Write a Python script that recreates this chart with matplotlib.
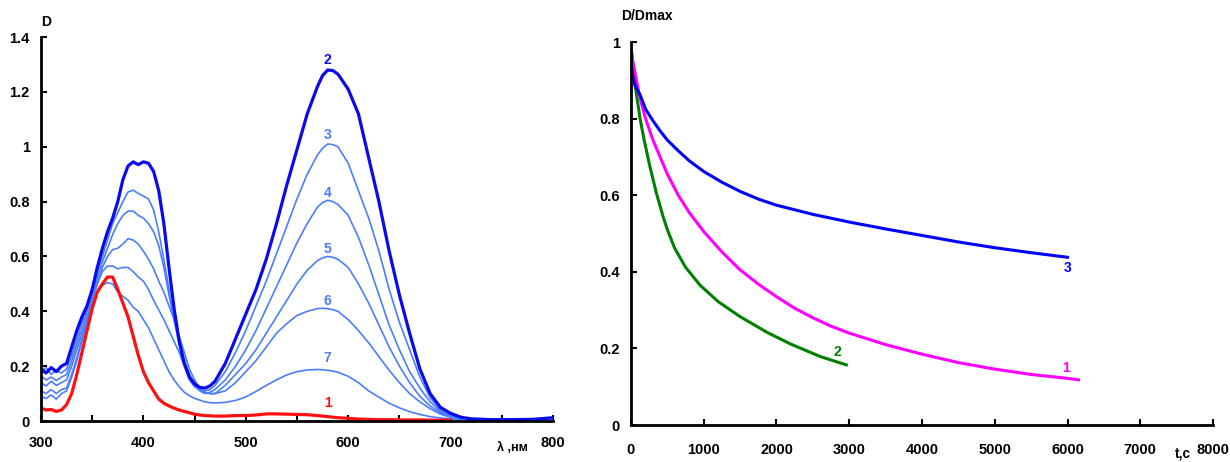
import matplotlib
matplotlib.use("Agg")
import matplotlib.pyplot as plt
from matplotlib.ticker import MultipleLocator, FuncFormatter

plt.rcParams['font.family'] = ['Liberation Sans', 'DejaVu Sans']
plt.rcParams['font.weight'] = 'bold'

# ---- left panel: absorption spectra ----
wl = [300, 305, 310, 315, 320, 325, 330, 335, 340, 345, 350, 355, 360, 365, 370, 375,
      380, 385, 390, 395, 400, 405, 410, 415, 420, 425, 430, 435, 440, 445, 450, 455,
      460, 465, 470, 480, 490, 500, 510, 520, 530, 540, 550, 560, 570, 575, 580, 585, 590, 600,
      610, 620, 630, 640, 650, 660, 670, 680, 690, 700, 710, 720, 740, 760, 780, 800]

d2 = [0.19, 0.175, 0.195, 0.18, 0.20, 0.21, 0.27, 0.33, 0.38, 0.42, 0.48, 0.56, 0.63, 0.69, 0.74, 0.80,
      0.88, 0.93, 0.945, 0.935, 0.945, 0.94, 0.91, 0.84, 0.72, 0.56, 0.41, 0.29, 0.21, 0.16, 0.135, 0.123,
      0.12, 0.128, 0.145, 0.21, 0.30, 0.39, 0.48, 0.59, 0.72, 0.86, 0.99, 1.12, 1.22, 1.26, 1.28, 1.278, 1.265, 1.21,
      1.12, 0.96, 0.80, 0.62, 0.46, 0.32, 0.19, 0.10, 0.05, 0.028, 0.014, 0.008, 0.005, 0.005, 0.006, 0.012]

d3 = [0.18, 0.195, 0.17, 0.185, 0.175, 0.19, 0.24, 0.30, 0.36, 0.41, 0.47, 0.54, 0.60, 0.66, 0.72, 0.76,
      0.80, 0.835, 0.842, 0.83, 0.82, 0.81, 0.77, 0.69, 0.59, 0.48, 0.37, 0.28, 0.20, 0.15, 0.125, 0.113,
      0.11, 0.115, 0.13, 0.18, 0.25, 0.33, 0.42, 0.51, 0.61, 0.71, 0.81, 0.90, 0.97, 0.995, 1.01, 1.008, 1.00, 0.94,
      0.84, 0.74, 0.62, 0.48, 0.36, 0.26, 0.16, 0.085, 0.04, 0.02, 0.01, 0.007, 0.005, 0.005, 0.005, 0.01]

d4 = [0.165, 0.15, 0.16, 0.148, 0.16, 0.17, 0.22, 0.28, 0.34, 0.40, 0.46, 0.52, 0.58, 0.63, 0.68, 0.72,
      0.75, 0.765, 0.766, 0.75, 0.74, 0.72, 0.69, 0.64, 0.56, 0.46, 0.37, 0.29, 0.22, 0.17, 0.13, 0.11,
      0.10, 0.105, 0.115, 0.15, 0.20, 0.26, 0.33, 0.41, 0.49, 0.57, 0.65, 0.72, 0.78, 0.797, 0.805, 0.80, 0.79, 0.75,
      0.67, 0.57, 0.46, 0.35, 0.26, 0.18, 0.12, 0.07, 0.035, 0.018, 0.01, 0.006, 0.005, 0.005, 0.005, 0.009]

d5 = [0.14, 0.128, 0.145, 0.13, 0.14, 0.15, 0.20, 0.26, 0.32, 0.38, 0.44, 0.50, 0.56, 0.60, 0.625, 0.63,
      0.645, 0.665, 0.66, 0.645, 0.62, 0.59, 0.555, 0.51, 0.47, 0.42, 0.37, 0.31, 0.25, 0.19, 0.15, 0.12,
      0.105, 0.10, 0.10, 0.13, 0.17, 0.21, 0.26, 0.32, 0.38, 0.44, 0.50, 0.55, 0.585, 0.595, 0.60, 0.597, 0.59, 0.56,
      0.50, 0.43, 0.35, 0.27, 0.20, 0.14, 0.09, 0.055, 0.03, 0.016, 0.009, 0.006, 0.005, 0.005, 0.005, 0.008]

d6 = [0.11, 0.10, 0.115, 0.10, 0.115, 0.12, 0.17, 0.23, 0.30, 0.37, 0.44, 0.50, 0.545, 0.565, 0.565, 0.555,
      0.56, 0.56, 0.545, 0.525, 0.51, 0.48, 0.44, 0.405, 0.37, 0.33, 0.29, 0.25, 0.20, 0.165, 0.14, 0.12,
      0.105, 0.10, 0.10, 0.11, 0.14, 0.18, 0.22, 0.27, 0.32, 0.355, 0.385, 0.40, 0.41, 0.411, 0.41, 0.406, 0.40, 0.37,
      0.33, 0.285, 0.235, 0.185, 0.14, 0.10, 0.07, 0.045, 0.025, 0.014, 0.008, 0.006, 0.005, 0.005, 0.005, 0.008]

d7 = [0.09, 0.082, 0.095, 0.08, 0.10, 0.11, 0.16, 0.22, 0.29, 0.36, 0.42, 0.47, 0.495, 0.505, 0.50, 0.47,
      0.455, 0.44, 0.415, 0.40, 0.37, 0.34, 0.30, 0.26, 0.22, 0.18, 0.15, 0.125, 0.105, 0.092, 0.083, 0.076,
      0.07, 0.067, 0.066, 0.068, 0.075, 0.088, 0.108, 0.13, 0.15, 0.168, 0.18, 0.186, 0.188, 0.187, 0.185, 0.182, 0.178, 0.163,
      0.14, 0.11, 0.087, 0.065, 0.048, 0.034, 0.024, 0.016, 0.011, 0.008, 0.006, 0.005, 0.004, 0.004, 0.004, 0.007]

d1 = [0.047, 0.04, 0.042, 0.035, 0.04, 0.06, 0.10, 0.17, 0.25, 0.33, 0.41, 0.47, 0.50, 0.525, 0.525, 0.48,
      0.43, 0.38, 0.31, 0.24, 0.18, 0.14, 0.11, 0.08, 0.065, 0.055, 0.047, 0.04, 0.035, 0.03, 0.025, 0.022,
      0.02, 0.019, 0.018, 0.018, 0.02, 0.02, 0.022, 0.026, 0.026, 0.025, 0.024, 0.023, 0.02, 0.018, 0.016, 0.014, 0.012, 0.01,
      0.007, 0.006, 0.005, 0.005, 0.004, 0.004, 0.004, 0.003, 0.003, 0.003]

# ---- right panel: kinetics ----
t3 = [0, 15, 30, 60, 125, 200, 300, 400, 500, 650, 800, 1000, 1250, 1500, 1750, 2000,
      2500, 3000, 3500, 4000, 4500, 5000, 5500, 6000]
k3 = [0.96, 0.925, 0.905, 0.885, 0.862, 0.825, 0.795, 0.768, 0.744, 0.716, 0.69, 0.662, 0.634, 0.61, 0.59, 0.574,
      0.55, 0.53, 0.512, 0.495, 0.478, 0.463, 0.45, 0.438]

t1 = [0, 25, 60, 100, 150, 200, 300, 400, 500, 650, 800, 1000, 1250, 1500, 1750, 2000,
      2250, 2500, 2750, 3000, 3500, 4000, 4500, 5000, 5500, 6000, 6150]
k1 = [0.985, 0.95, 0.915, 0.875, 0.835, 0.80, 0.745, 0.70, 0.655, 0.60, 0.555, 0.505, 0.452, 0.405, 0.368, 0.335,
      0.305, 0.28, 0.258, 0.24, 0.21, 0.185, 0.163, 0.146, 0.132, 0.122, 0.118]

t2 = [0, 15, 55, 125, 180, 260, 350, 440, 500, 600, 750, 950, 1200, 1500, 1870, 2200, 2600, 2960]
k2 = [0.99, 0.96, 0.89, 0.80, 0.745, 0.675, 0.605, 0.545, 0.51, 0.462, 0.412, 0.365, 0.322, 0.283, 0.242, 0.211, 0.179, 0.157]

thin = '#4a7dff'
fmt = FuncFormatter(lambda v, p: '%g' % round(v, 3))

fig = plt.figure(figsize=(12.3, 4.62), dpi=100)

ax = fig.add_axes([0.0333, 0.0887, 0.4163, 0.831])
for y in [d7, d6, d5, d4, d3]:
    ax.plot(wl, y, color=thin, lw=1.2)
ax.plot(wl, d2, color='#0a0aee', lw=2.3)
ax.plot(wl[:len(d1)], d1, color='#ff1010', lw=2.3)
ax.set_xlim(300, 800)
ax.set_ylim(0, 1.4)
ax.xaxis.set_major_locator(MultipleLocator(100))
ax.xaxis.set_minor_locator(MultipleLocator(50))
ax.yaxis.set_major_locator(MultipleLocator(0.2))
ax.yaxis.set_major_formatter(fmt)
ax.tick_params(axis='x', which='both', direction='in', length=4, width=1.5, pad=11, labelsize=10.5)
ax.tick_params(axis='y', direction='in', length=4, width=1.5, pad=8, labelsize=10.5)
ax.text(300, 1.43, 'D', fontsize=10, fontweight='bold', ha='left', va='bottom')
ax.text(0.92, -0.07, 'λ ,нм', fontsize=9, fontweight='bold', ha='center', va='center', transform=ax.transAxes)
lbl = [('2', 1.316, '#0a0aee'), ('3', 1.043, thin), ('4', 0.831, thin), ('5', 0.627, thin),
       ('6', 0.437, thin), ('7', 0.23, thin), ('1', 0.066, '#ff1010')]
for s, yv, c in lbl:
    ax.text(580, yv, s, color=c, fontsize=10, fontweight='bold', ha='center', va='center')

bx = fig.add_axes([0.513, 0.080, 0.4732, 0.829])
bx.plot(t2, k2, color='#008000', lw=2.2)
bx.plot(t1, k1, color='#ff00ff', lw=2.2)
bx.plot(t3, k3, color='#0000ff', lw=2.2)
bx.set_xlim(0, 8000)
bx.set_ylim(0, 1)
bx.xaxis.set_major_locator(MultipleLocator(1000))
bx.yaxis.set_major_locator(MultipleLocator(0.2))
bx.yaxis.set_major_formatter(fmt)
bx.tick_params(axis='x', direction='in', length=4, width=1.5, pad=13, labelsize=10.5)
bx.tick_params(axis='y', direction='in', length=4, width=1.5, pad=8, labelsize=10.5)
bx.text(-130, 1.05, 'D/Dmax', fontsize=10, fontweight='bold', ha='left', va='bottom')
bx.text(7580, -0.075, 't,c', fontsize=10, fontweight='bold', ha='center', va='center')
bx.text(6000, 0.41, '3', color='#0000ff', fontsize=10, fontweight='bold', ha='center', va='center')
bx.text(2840, 0.19, '2', color='#008000', fontsize=10, fontweight='bold', ha='center', va='center')
bx.text(5980, 0.149, '1', color='#ff00ff', fontsize=10, fontweight='bold', ha='center', va='center')

for a in (ax, bx):
    for sp in ('top', 'right'):
        a.spines[sp].set_visible(False)
    for sp in ('left', 'bottom'):
        a.spines[sp].set_linewidth(2)
        a.spines[sp].set_color('black')

fig.savefig('out.png', dpi=100)
